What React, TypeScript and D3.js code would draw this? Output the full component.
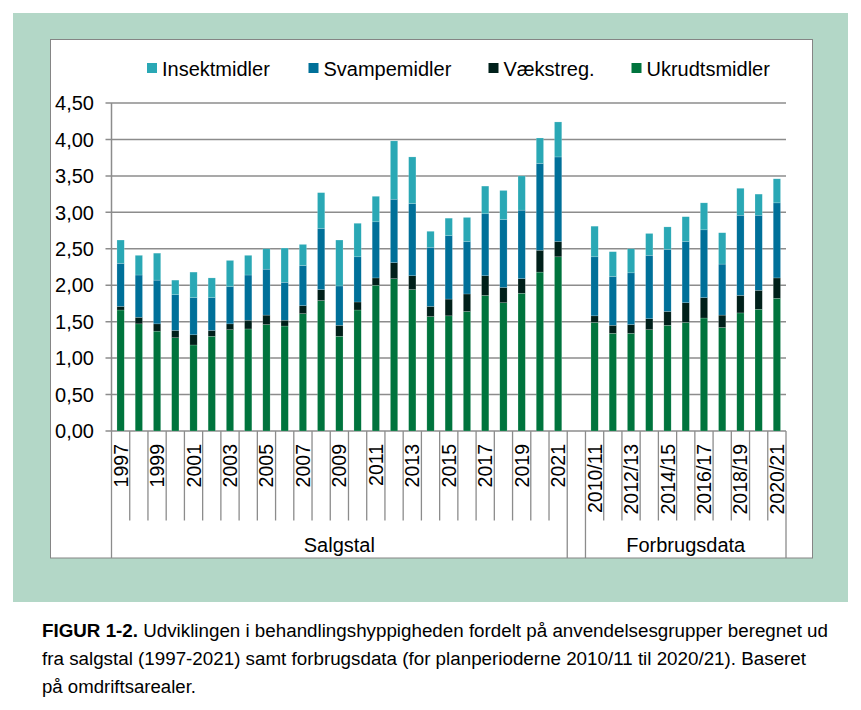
import React from "react";
import * as d3 from "d3";

// categories
const salgstalYears = [
  "1997", "1998", "1999", "2000", "2001", "2002", "2003", "2004", "2005",
  "2006", "2007", "2008", "2009", "2010", "2011", "2012", "2013", "2014",
  "2015", "2016", "2017", "2018", "2019", "2020", "2021",
];
const forbrugPeriods = [
  "2010/11", "2011/12", "2012/13", "2013/14", "2014/15", "2015/16",
  "2016/17", "2017/18", "2018/19", "2019/20", "2020/21",
];

// series values: salgstal (25) followed by forbrugsdata (11)
const ukrudtsmidler = [
  1.66, 1.47, 1.37, 1.28, 1.18, 1.3, 1.39, 1.4, 1.46, 1.44, 1.61, 1.79, 1.3,
  1.66, 2.0, 2.09, 1.94, 1.57, 1.58, 1.64, 1.86, 1.76, 1.89, 2.18, 2.39,
  1.49, 1.34, 1.34, 1.39, 1.45, 1.49, 1.55, 1.42, 1.62, 1.67, 1.82,
];
const vaekstreg = [
  0.05, 0.09, 0.1, 0.1, 0.14, 0.08, 0.08, 0.12, 0.13, 0.08, 0.11, 0.15, 0.15,
  0.11, 0.1, 0.22, 0.19, 0.14, 0.23, 0.24, 0.27, 0.21, 0.2, 0.3, 0.21,
  0.09, 0.11, 0.12, 0.15, 0.19, 0.27, 0.28, 0.17, 0.24, 0.26, 0.28,
];
const svampemidler = [
  0.59, 0.58, 0.6, 0.49, 0.51, 0.45, 0.51, 0.62, 0.63, 0.52, 0.55, 0.84, 0.54,
  0.62, 0.77, 0.87, 0.99, 0.81, 0.87, 0.72, 0.85, 0.93, 0.94, 1.19, 1.16,
  0.81, 0.67, 0.71, 0.87, 0.85, 0.84, 0.93, 0.7, 1.1, 1.03, 1.03,
];
const insektmidler = [
  0.32, 0.27, 0.37, 0.2, 0.35, 0.27, 0.36, 0.27, 0.28, 0.47, 0.29, 0.49, 0.63,
  0.46, 0.35, 0.8, 0.64, 0.22, 0.24, 0.33, 0.38, 0.4, 0.47, 0.35, 0.48,
  0.42, 0.34, 0.33, 0.3, 0.31, 0.34, 0.37, 0.43, 0.37, 0.29, 0.33,
];

const yTicks = [0, 0.5, 1, 1.5, 2, 2.5, 3, 3.5, 4, 4.5];
const groupLabels = ["Salgstal", "Forbrugsdata"];

const legendItems = [
  { key: "insekt", label: "Insektmidler" },
  { key: "svampe", label: "Svampemidler" },
  { key: "vaekst", label: "Vækstreg." },
  { key: "ukrudt", label: "Ukrudtsmidler" },
];

const captionBold = "FIGUR 1-2.";
const captionLines = [
  " Udviklingen i behandlingshyppigheden fordelt på anvendelsesgrupper beregnet ud",
  "fra salgstal (1997-2021) samt forbrugsdata (for planperioderne 2010/11 til 2020/21). Baseret",
  "på omdriftsarealer.",
];

const colors: Record<string, string> = {
  ukrudt: "#00743d",
  vaekst: "#00201a",
  svampe: "#007099",
  insekt: "#2aa8b5",
};

const FONT = "'Liberation Sans', Arial, sans-serif";
const GAP = "__gap__";

type Row = { cat: string; ukrudt: number; vaekst: number; svampe: number; insekt: number };

const App: React.FC = () => {
  const width = 861;
  const height = 710;
  const plot = { left: 111.5, right: 786, top: 103, bottom: 431 };

  const cats = [...salgstalYears, GAP, ...forbrugPeriods];
  const dataCats = [...salgstalYears, ...forbrugPeriods];
  const rows: Row[] = dataCats.map((cat, i) => ({
    cat,
    ukrudt: ukrudtsmidler[i],
    vaekst: vaekstreg[i],
    svampe: svampemidler[i],
    insekt: insektmidler[i],
  }));

  const x = d3
    .scaleBand<string>()
    .domain(cats)
    .range([plot.left, plot.right])
    .paddingInner(0.6)
    .paddingOuter(0.3);
  const step = x.step();
  const leftEdge = (c: string) => (x(c) as number) - (step * 0.6) / 2;

  const y = d3.scaleLinear().domain([0, 4.5]).range([plot.bottom, plot.top]);

  const stack = d3.stack<Row>().keys(["ukrudt", "vaekst", "svampe", "insekt"]);
  const series = stack(rows);

  const fmt = (v: number) => d3.format(".2f")(v).replace(".", ",");

  // category boundaries
  const boundaries = d3.range(cats.length + 1).map((i) => ({
    i,
    x: plot.left + i * step,
  }));
  const longIdx = new Set([0, salgstalYears.length, salgstalYears.length + 1, cats.length]);

  const labelled = [
    ...salgstalYears.filter((_, i) => i % 2 === 0),
    ...forbrugPeriods.filter((_, i) => i % 2 === 0),
  ];

  const groupCenters = [
    (leftEdge(salgstalYears[0]) + leftEdge(GAP)) / 2,
    (leftEdge(forbrugPeriods[0]) + plot.right) / 2,
  ];

  const legendX = [147, 308.5, 488.5, 631.5];

  return (
    <svg
      width={width}
      height={height}
      style={{ position: "absolute", left: 0, top: 0, background: "#fff" }}
      fontFamily={FONT}
    >
      <rect x={13} y={13} width={835} height={589} fill="#b3d7c7" />
      <rect x={50.5} y={39.5} width={762} height={518.5} fill="#fff" stroke="#858585" strokeWidth={1} />

      {/* legend */}
      {legendItems.map((d, i) => (
        <g key={d.key}>
          <rect x={legendX[i]} y={63} width={10} height={10} fill={colors[d.key]} />
          <text x={legendX[i] + 15} y={75.5} fontSize={20} fill="#000">
            {d.label}
          </text>
        </g>
      ))}

      {/* gridlines and y axis */}
      {yTicks.map((t) => (
        <g key={t}>
          <line
            x1={plot.left - 6}
            x2={plot.right}
            y1={y(t)}
            y2={y(t)}
            stroke="#8c8c8c"
            strokeWidth={1.5}
          />
          <text x={94} y={y(t)} dy="0.36em" textAnchor="end" fontSize={20} fill="#000">
            {fmt(t)}
          </text>
        </g>
      ))}
      <line x1={plot.left} x2={plot.left} y1={plot.top} y2={plot.bottom} stroke="#8c8c8c" strokeWidth={1.5} />

      {/* bars */}
      {series.map((s) => (
        <g key={s.key} fill={colors[s.key]}>
          {s.map((d) => (
            <rect
              key={d.data.cat}
              x={x(d.data.cat)}
              y={y(d[1])}
              width={x.bandwidth()}
              height={y(d[0]) - y(d[1])}
              stroke="#ffffff"
              strokeOpacity={0.35}
              strokeWidth={0.5}
            />
          ))}
        </g>
      ))}

      {/* category axis */}
      {boundaries.map((b) => (
        <line
          key={b.i}
          x1={b.x}
          x2={b.x}
          y1={plot.bottom}
          y2={longIdx.has(b.i) ? 558 : 520.5}
          stroke="#8c8c8c"
          strokeWidth={1.3}
        />
      ))}
      {labelled.map((c) => (
        <text
          key={c}
          transform={`translate(${(x(c) as number) + x.bandwidth() / 2},444) rotate(-90)`}
          textAnchor="end"
          dy="0.36em"
          fontSize={19.5}
          fill="#000"
        >
          {c}
        </text>
      ))}
      {groupLabels.map((g, i) => (
        <text key={g} x={groupCenters[i]} y={552} textAnchor="middle" fontSize={20} fill="#000">
          {g}
        </text>
      ))}

      {/* caption */}
      <text x={42} y={637} fontSize={18} fill="#000" textLength={786} lengthAdjust="spacingAndGlyphs">
        <tspan fontWeight="bold">{captionBold}</tspan>
        {captionLines[0]}
      </text>
      <text x={42} y={665} fontSize={18} fill="#000" textLength={764} lengthAdjust="spacingAndGlyphs">
        {captionLines[1]}
      </text>
      <text x={42} y={693} fontSize={18} fill="#000" textLength={154} lengthAdjust="spacingAndGlyphs">
        {captionLines[2]}
      </text>
    </svg>
  );
};

export default App;
